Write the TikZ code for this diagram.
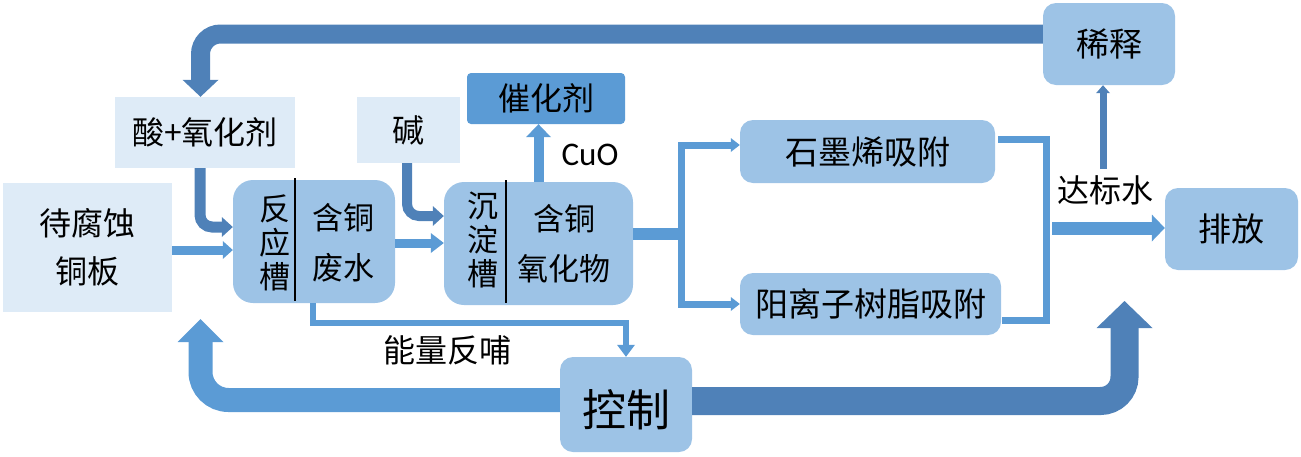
\documentclass[tikz,border=0pt]{standalone}
\usepackage{fontspec}
\usepackage{tikz}
\usetikzlibrary{arrows.meta, calc}
\newfontfamily\cjk{Noto Sans CJK SC}
\newfontfamily\cusans{Carlito}
\definecolor{palefill}{HTML}{DEEBF7}
\definecolor{boxfill}{HTML}{9DC3E6}
\definecolor{deepfill}{HTML}{5B9BD5}
\definecolor{flowblue}{HTML}{5B9BD5}
\definecolor{steelblue}{HTML}{4F81B8}

\begin{document}
\begin{tikzpicture}[x=1pt, y=-1pt,
    palebox/.style={fill=palefill, inner sep=0pt, align=center, font=\cjk\fontsize{32}{48}\selectfont},
    tankbox/.style={fill=boxfill, rounded corners=20pt, inner sep=0pt},
    unitbox/.style={fill=boxfill, rounded corners=13pt, inner sep=0pt, font=\cjk\fontsize{33}{40}\selectfont},
    cjklabel/.style={inner sep=0pt, align=center, font=\cjk\fontsize{32}{40}\selectfont},
    divider/.style={black, line width=1.5pt}]
    \useasboundingbox (0,0) rectangle (1301,456);

    % feed side
    \node[palebox, minimum width=169pt, minimum height=129pt] (plate) at (87.5,247.5) {待腐蚀\\铜板};
    \node[palebox, minimum width=180pt, minimum height=71pt] (acid) at (205,132.5) {酸+氧化剂};
    \node[palebox, minimum width=103pt, minimum height=66pt] (alkali) at (408.5,130) {碱};
    \node[fill=deepfill, rounded corners=4pt, inner sep=0pt, minimum width=158pt, minimum height=51pt, font=\cjk\fontsize{32}{40}\selectfont] (catalyst) at (546,98.5) {催化剂};

    % tanks
    \node[tankbox, minimum width=162pt, minimum height=123pt] (reactor) at (314,241.5) {};
    \node[cjklabel, font=\cjk\fontsize{31}{34}\selectfont] (reactorname) at (275,243) {反\\应\\槽};
    \node[cjklabel, font=\cjk\fontsize{31}{50}\selectfont] (reactorwaste) at (343,243) {含铜\\废水};
    \draw[divider] (295,178) -- (295,301);
    \node[tankbox, minimum width=189pt, minimum height=123pt] (settler) at (538.5,243.5) {};
    \node[cjklabel, font=\cjk\fontsize{31}{34}\selectfont] (settlername) at (483,240) {沉\\淀\\槽};
    \node[cjklabel, font=\cjk\fontsize{31}{50}\selectfont] (settlersolid) at (564,244) {含铜\\氧化物};
    \draw[divider] (506,180) -- (506,303);

    % treatment and output
    \node[unitbox, minimum width=255pt, minimum height=63pt] (graphene) at (867.5,151.5) {石墨烯吸附};
    \node[unitbox, minimum width=261pt, minimum height=62pt] (resin) at (870.5,304) {阳离子树脂吸附};
    \node[unitbox, minimum width=132pt, minimum height=82pt] (dilute) at (1109,44) {稀释};
    \node[unitbox, minimum width=133pt, minimum height=82pt] (discharge) at (1231.5,229) {排放};
    \node[unitbox, minimum width=132pt, minimum height=95pt] (control) at (626,404.5) {};
    \node[cjklabel, font=\cjk\fontsize{44}{50}\selectfont] (controlname) at (626,410) {控制};

    \node[cjklabel] (standard) at (1105,190) {达标水};
    \node[cjklabel] (feedbacklabel) at (447,350) {能量反哺};
    \node[inner sep=0pt, font=\cusans\fontsize{33}{38}\selectfont] (cuo) at (590,155) {CuO};

    \coordinate (platein) at (200.5,319);
    \coordinate (dischargein) at (1124.5,301);
    \coordinate (fbturn) at (313,323);
    \coordinate (split) at (681,234);
    \coordinate (merge) at (1046,228);

    % big loops
    \draw[steelblue, line width=19pt, rounded corners=20pt, -{Triangle[length=17pt, width=36pt, line width=0pt]}]
        ([yshift=10pt]dilute.west) -| ([xshift=-4.5pt]acid.north);
    \draw[flowblue, line width=24pt, rounded corners=28pt, -{Triangle[length=23pt, width=46pt, line width=0pt]}]
        ([yshift=4.5pt]control.west) -| (platein);
    \draw[steelblue, line width=28pt, rounded corners=24pt, -{Triangle[length=27pt, width=56pt, line width=0pt]}]
        ([yshift=3.5pt]control.east) -| (dischargein);

    % process flow
    \draw[flowblue, line width=9pt, -{Triangle[length=10pt, width=18pt, line width=0pt]}]
        ([yshift=-2.5pt]plate.east) -- ([yshift=-2.5pt]plate.east -| reactor.west);
    \draw[steelblue, line width=11pt, rounded corners=12pt, -{Triangle[length=11pt, width=20pt, line width=0pt]}]
        ([xshift=-5pt]acid.south) |- ([yshift=14.5pt]reactor.west);
    \draw[steelblue, line width=10pt, rounded corners=12pt, -{Triangle[length=11pt, width=20pt, line width=0pt]}]
        ([xshift=-1.5pt]alkali.south) |- ([yshift=27.5pt]settler.west);
    \draw[flowblue, line width=9pt, -{Triangle[length=13pt, width=20pt, line width=0pt]}]
        ([yshift=-1.5pt]reactor.east) -- ([yshift=-1.5pt]reactor.east -| settler.west);
    \draw[flowblue, line width=10pt, -{Triangle[length=13pt, width=25pt, line width=0pt]}]
        (settler.north) -- (settler.north |- catalyst.south);
    \draw[flowblue, line width=6pt, -{Triangle[length=12pt, width=18pt, line width=0pt]}]
        (reactor.south -| fbturn) -- (fbturn) -| (control.north);

    \draw[flowblue, line width=12pt] ([yshift=9.5pt]settler.east) -- (split);
    \draw[flowblue, line width=7pt, -{Triangle[length=9pt, width=14pt, line width=0pt]}]
        (split) |- ([yshift=6.5pt]graphene.west);
    \draw[flowblue, line width=7pt, -{Triangle[length=9pt, width=14pt, line width=0pt]}]
        (split) |- (resin.west);
    \draw[flowblue, line width=7pt]
        ([xshift=3pt, yshift=12.5pt]graphene.east) -| (merge) |- ([xshift=1pt, yshift=-16pt]resin.east);
    \draw[flowblue, line width=13pt, -{Triangle[length=13pt, width=27pt, line width=0pt]}]
        ([xshift=6pt]merge) -- (merge -| discharge.west);
    \draw[steelblue, line width=7pt, -{Triangle[length=8pt, width=14pt, line width=0pt]}]
        ([xshift=-2pt, yshift=6pt]standard.north) -- ([xshift=-2pt]standard.north |- dilute.south);
\end{tikzpicture}
\end{document}
